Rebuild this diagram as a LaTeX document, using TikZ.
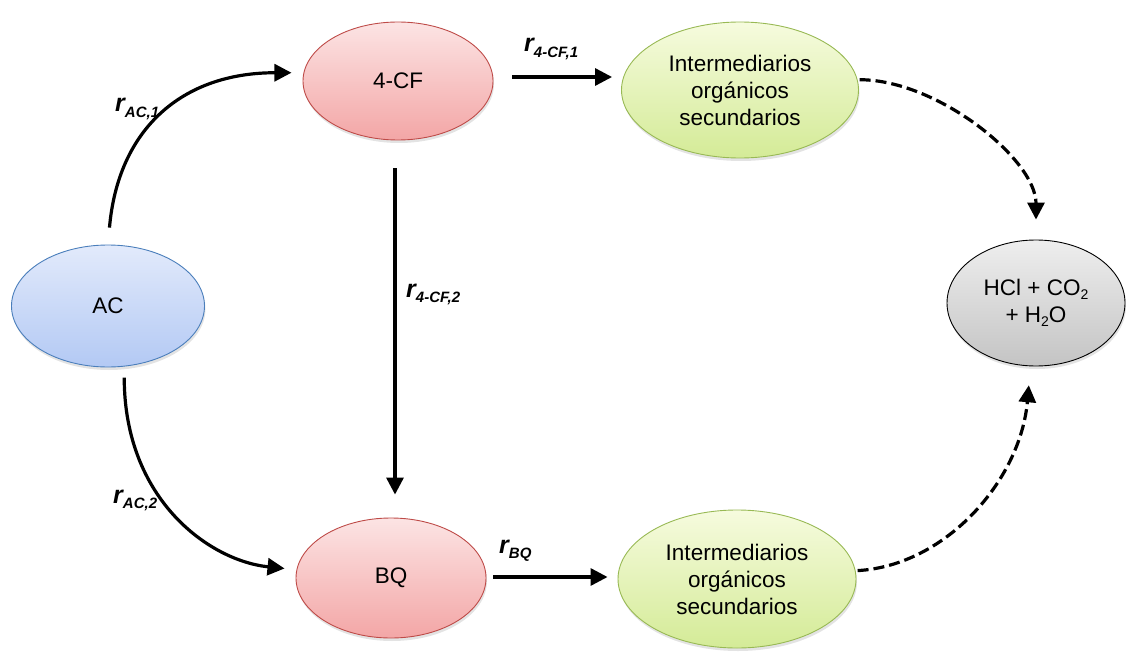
\documentclass[tikz,border=0pt]{standalone}
\usepackage{fontspec}
\setmainfont{Liberation Sans}
\usetikzlibrary{shapes.geometric,arrows.meta,shadows}

\definecolor{acTop}{HTML}{E2EAFB}
\definecolor{acBot}{HTML}{B3C9F4}
\definecolor{acLine}{HTML}{4A7EBB}
\definecolor{cfTop}{HTML}{FCE4E4}
\definecolor{cfBot}{HTML}{F3A6A6}
\definecolor{cfLine}{HTML}{BE4B48}
\definecolor{imTop}{HTML}{F6FBDE}
\definecolor{imBot}{HTML}{D4EB97}
\definecolor{imLine}{HTML}{98B954}
\definecolor{prTop}{HTML}{EEEEEE}
\definecolor{prBot}{HTML}{C4C4C4}

\newcommand{\lowsub}[1]{\raisebox{-5.5pt}{\fontsize{15}{15}\selectfont #1}}
\newcommand{\chemsub}[1]{\raisebox{-3.5pt}{\fontsize{14}{14}\selectfont #1}}

\begin{document}
\begin{tikzpicture}[x=1pt,y=-1pt,
  blob/.style={ellipse, inner sep=0pt, align=center, line width=0.9pt,
    font=\fontsize{22.5}{27}\selectfont,
    drop shadow={opacity=0.22, shadow xshift=1pt, shadow yshift=-3pt}},
  reactant/.style={blob, draw=acLine, top color=acTop, bottom color=acBot},
  product/.style={blob, draw=cfLine, top color=cfTop, bottom color=cfBot},
  inter/.style={blob, draw=imLine, top color=imTop, bottom color=imBot},
  final/.style={blob, draw=black, top color=prTop, bottom color=prBot},
  arr/.style={line width=3.2pt, -{Triangle[length=17pt,width=17pt]}},
  darr/.style={arr, dash pattern=on 11pt off 5pt},
  rate/.style={anchor=base west, inner sep=0pt,
    font=\fontsize{25}{25}\bfseries\itshape\selectfont}
]
\useasboundingbox (0,0) rectangle (1129,655);

% species
\node[reactant, minimum width=193pt, minimum height=122pt] (ac) at (108,306) {AC};
\node[product,  minimum width=190pt, minimum height=118pt] (cf) at (398,81) {4-CF};
\node[product,  minimum width=190pt, minimum height=120pt] (bq) at (391,578) {BQ};
\node[inter,    minimum width=237pt, minimum height=136pt] (i1) at (740,90)
  {Intermediarios\\orgánicos\\secundarios};
\node[inter,    minimum width=238pt, minimum height=138pt] (i2) at (737,579)
  {Intermediarios\\orgánicos\\secundarios};
\node[final,    minimum width=178pt, minimum height=126pt] (hcl) at (1036,303)
  {HCl + CO\chemsub{2}\\+ H\chemsub{2}O};

% reaction pathways
\draw[arr, shorten <=17pt, shorten >=12pt]
  (ac.north) .. controls +(10,-115) and +(-122,0) .. (cf.175);
\draw[arr, shorten <=11pt, shorten >=12pt]
  (ac.-75) .. controls +(0,133) and +(-87,-9) .. (bq.175);

\path ([shift={(19,-4)}]cf.east) coordinate (s1)
      ([shift={(-3,28)}]cf.south) coordinate (s2)
      ([shift={(7,-1)}]bq.east) coordinate (s3);
\draw[arr, shorten >=9pt] (s1) -- (s1 -| i1.west);
\draw[arr, shorten >=23pt] (s2) -- (s2 |- bq.north);
\draw[arr, shorten >=10pt] (s3) -- (s3 -| i2.west);

% mineralisation
\draw[darr, shorten <=2pt, shorten >=20pt]
  (i1.5) .. controls +(80,0) and +(0,-80) .. (hcl.north);
\draw[darr, shorten <=2pt, shorten >=19pt]
  (i2.4) .. controls +(90,-5) and +(-10,114) .. (hcl.-95);

% rate labels
\node[rate] (l1) at (115,112) {r\lowsub{AC,1}};
\node[rate] (l2) at (113,503) {r\lowsub{AC,2}};
\node[rate] (l3) at (524,52)  {r\lowsub{4-CF,1}};
\node[rate] (l4) at (406,297) {r\lowsub{4-CF,2}};
\node[rate] (l5) at (499,553) {r\lowsub{BQ}};
\end{tikzpicture}
\end{document}
